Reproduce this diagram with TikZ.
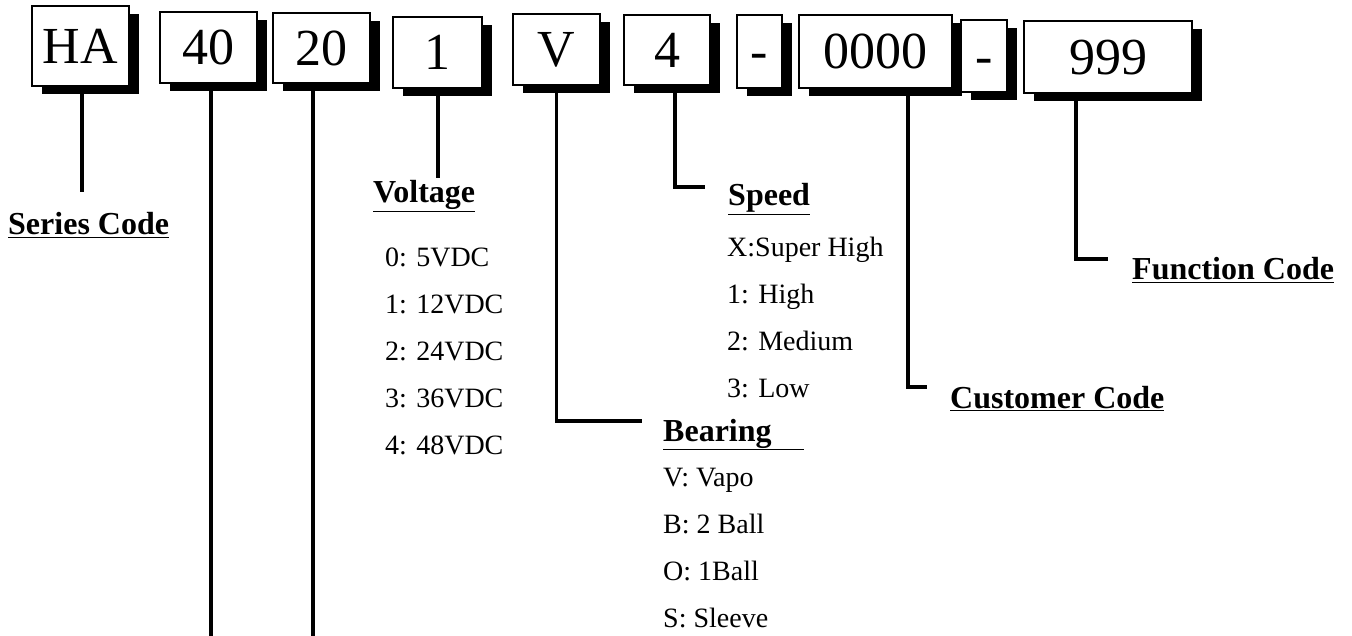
\documentclass[tikz,border=0pt]{standalone}
\usepackage{fontspec}
\setmainfont{Liberation Serif}
\usetikzlibrary{positioning, shadows}

\tikzset{
  codebox/.style={draw, line width=1.5pt, fill=white, inner sep=0pt,
    text height=35pt, text depth=0pt,
    font=\fontsize{52}{58}\selectfont,
    drop shadow={shadow xshift=10pt, shadow yshift=-8pt, fill=black, opacity=1}},
  heading/.style={anchor=base west, inner sep=0pt, font=\fontsize{32}{36}\selectfont\bfseries},
  choices/.style={anchor=north west, inner sep=0pt, align=left, font=\fontsize{28}{47}\selectfont},
  lead/.style={line width=3.5pt}
}

\begin{document}
\begin{tikzpicture}[x=1pt, y=1pt]
\useasboundingbox (0,0) rectangle (1352,-636);

\node[codebox, minimum width=97pt, minimum height=80pt] (ha) at (80.5,-46) {HA};
\node[codebox, minimum width=97pt, minimum height=71pt] (size) at (208.5,-47.5) {40};
\node[codebox, minimum width=97pt, minimum height=70pt] (thick) at (321.5,-48) {20};
\node[codebox, minimum width=89pt, minimum height=71pt] (volt) at (437.5,-52.5) {1};
\node[codebox, minimum width=87pt, minimum height=71pt] (bear) at (556.5,-49.5) {V};
\node[codebox, minimum width=86pt, minimum height=70pt] (speed) at (667,-50) {4};
\node[codebox, minimum width=45pt, minimum height=73pt] (dasha) at (759.5,-51.5) {-};
\node[codebox, minimum width=153pt, minimum height=73pt] (cust) at (875.5,-51.5) {0000};
\node[codebox, minimum width=46pt, minimum height=72pt] (dashb) at (984,-56) {-};
\node[codebox, minimum width=168pt, minimum height=72pt] (func) at (1108,-57) {999};

\node[heading] (serieslbl) at (8,-235) {\underline{Series Code}};
\node[heading] (voltlbl) at (373,-203) {\underline{Voltage}};
\node[heading] (speedlbl) at (728,-206) {\underline{Speed}};
\node[heading] (bearlbl) at (663,-441) {\underline{Bearing\hspace{32pt}}};
\node[heading] (custlbl) at (950,-408) {\underline{Customer Code}};
\node[heading] (funclbl) at (1132,-280) {\underline{Function Code}};

\node[choices] (voltlist) at (385,-248)
  {0: 5VDC\\1: 12VDC\\2: 24VDC\\3: 36VDC\\4: 48VDC};
\node[choices] (speedlist) at (727,-237)
  {X:Super High\\1: High\\2: Medium\\3: Low};
\node[choices] (bearlist) at (663,-468)
  {V: Vapo\\B: 2 Ball\\O: 1Ball\\S: Sleeve};

\coordinate (seriestip) at (82,-192);
\coordinate (sizetip) at (211,-636);
\coordinate (thicktip) at (313,-636);
\coordinate (volttip) at (438,-178);
\coordinate (beartip) at (642,-421);
\coordinate (speedtip) at (705,-187);
\coordinate (custtip) at (927,-387);
\coordinate (functip) at (1108,-259);

\draw[lead] (ha.south -| seriestip) -- (seriestip);
\draw[lead] (size.south -| sizetip) -- (sizetip);
\draw[lead] (thick.south -| thicktip) -- (thicktip);
\draw[lead] (volt.south -| volttip) -- (volttip);
\draw[lead] (bear.south) |- (beartip);
\draw[lead] ([xshift=8pt]speed.south) |- (speedtip);
\draw[lead] ([xshift=32.5pt]cust.south) |- (custtip);
\draw[lead] ([xshift=-32pt]func.south) |- (functip);
\end{tikzpicture}
\end{document}
